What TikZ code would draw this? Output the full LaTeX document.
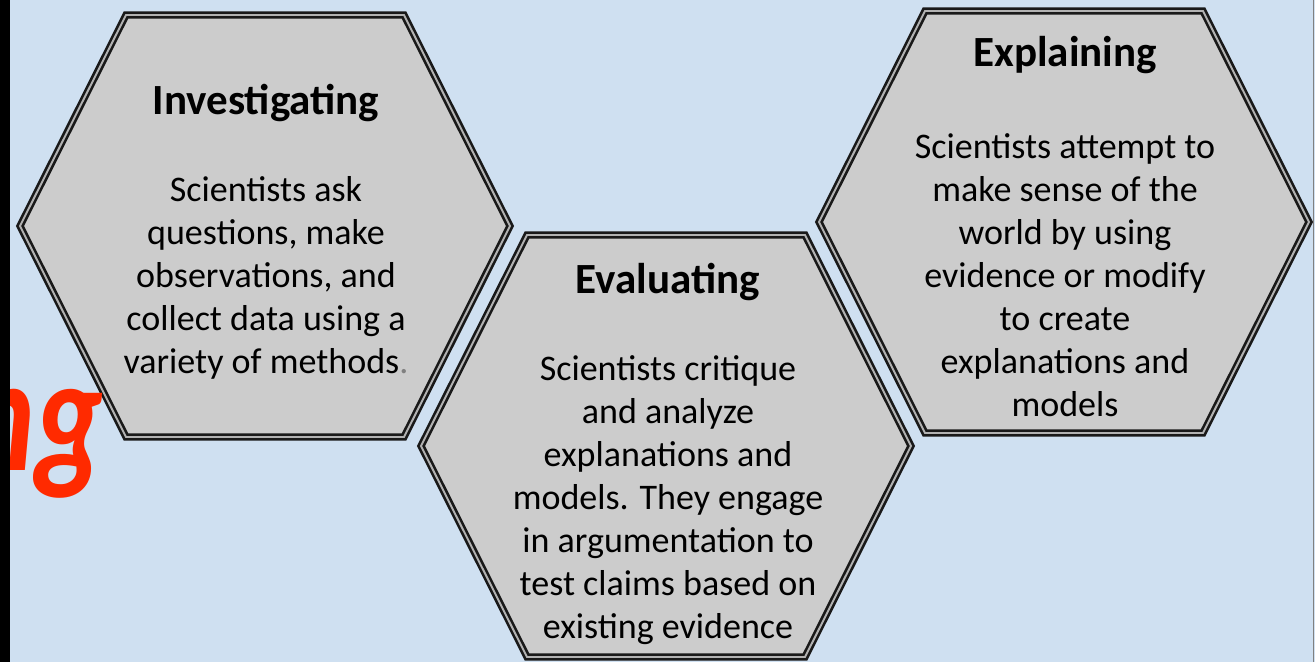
\documentclass[tikz,border=0pt]{standalone}
\usepackage{fontspec}
\setmainfont{Carlito}
\usetikzlibrary{calc}

\definecolor{slidebg}{RGB}{207,224,241}
\definecolor{cellfill}{RGB}{204,204,204}
\definecolor{inkred}{RGB}{255,42,0}

\tikzset{
  hexline/.style={draw=black!90,line width=1.5pt,double=gray!60,double distance=1.1pt,fill=cellfill,line join=miter},
  celltitle/.style={font=\fontsize{24.5}{29}\selectfont\bfseries,inner sep=0},
  cellbody/.style={font=\fontsize{20.5}{24.5}\selectfont,align=center,inner sep=0}
}

% one hexagon cell round a named centre
\newcommand{\hexcell}[2]{%
  \coordinate (#1) at #2;
  \draw[hexline] ($(#1)+(-245,0)$) -- ++(106,-211) -- ++(278,0) -- ++(106,211)
    -- ++(-106,211) -- ++(-278,0) -- cycle;
}

\begin{document}
\begin{tikzpicture}[x=0.02cm,y=-0.02cm]

  \useasboundingbox (0,0) rectangle (1315,662);
  \fill[slidebg] (0,0) rectangle (1315,662);

  \hexcell{inv}{(265,226)}
  \hexcell{eva}{(666,446)}
  \hexcell{exp}{(1064,222)}

  % cut-off word on the left
  \begin{scope}
    \clip (0,0) rectangle (1315,662);
    \node (word) at (104,470) [anchor=base east,inner sep=0,text=inkred,xscale=0.78,
      font=\fontsize{94}{94}\selectfont\bfseries\itshape]{ng};
  \end{scope}

  \node (invtitle) at (266,103) [celltitle]{Investigating};
  \node (invbody) at (266,278) [cellbody]{Scientists ask\\questions, make\\observations, and\\collect data using a\\variety of methods{\color{gray}.}};

  \node (evatitle) at (668,282) [celltitle]{Evaluating};
  \node (evabody) at (668,500) [cellbody]{Scientists critique\\and analyze\\explanations and\\models. They engage\\in argumentation to\\test claims based on\\existing evidence};

  \node (exptitle) at (1065,55) [celltitle]{Explaining};
  \node (expbody) at (1065,275) [cellbody]{Scientists attempt to\\make sense of the\\world by using\\evidence or modify\\to create\\explanations and\\models};

  % slide edges
  \fill[black] (0,0) rectangle (9.5,662);
  \draw[gray,line width=0.8pt] (1313.5,0) -- (1313.5,662);

\end{tikzpicture}
\end{document}
